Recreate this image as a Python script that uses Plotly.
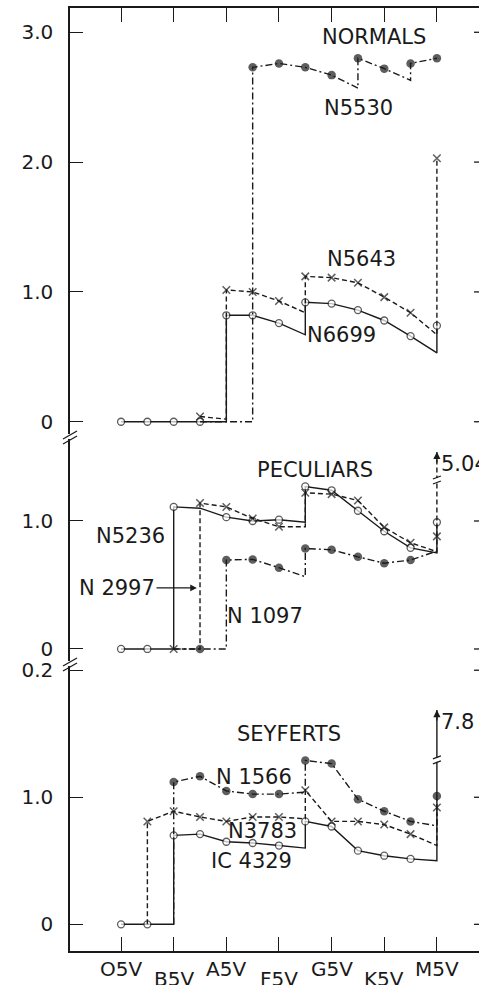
import plotly.graph_objects as go

INK = "#1a1a1a"
FONT = "DejaVu Sans"

# Spectral subtypes along the x axis (main types plus the intermediate ones)
SUBTYPES = ["O5V", "B0V", "B5V", "A0V", "A5V", "F0V", "F5V",
            "G0V", "G5V", "K0V", "K5V", "M0V", "M5V"]
AXIS_TYPES = ["O5V", "B5V", "A5V", "F5V", "G5V", "K5V", "M5V"]
LOW_LABELS = ["B5V", "F5V", "K5V"]          # tick labels set a little lower

# ---------------- NORMALS ----------------
N6699_T = ["O5V", "B0V", "B5V", "A0V", "A5V", "A5V", "F0V", "F5V", "G0V", "G0V",
           "G5V", "K0V", "K5V", "M0V", "M5V", "M5V"]
N6699_V = [0, 0, 0, 0, 0, 0.82, 0.82, 0.76, 0.67, 0.92, 0.91, 0.86, 0.78, 0.66, 0.53, 0.74]
N6699_M = [1, 1, 1, 1, 0, 1, 1, 1, 0, 1, 1, 1, 1, 1, 0, 1]

N5643_T = ["A0V", "A5V", "A5V", "F0V", "F5V", "G0V", "G0V", "G5V", "K0V", "K5V",
           "M0V", "M5V", "M5V"]
N5643_V = [0.04, 0.02, 1.015, 1.00, 0.93, 0.84, 1.12, 1.11, 1.07, 0.96, 0.84, 0.67, 2.03]
N5643_M = [1, 0, 1, 1, 1, 0, 1, 1, 1, 1, 1, 0, 1]

N5530_T = ["A0V", "F0V", "F0V", "F5V", "G0V", "G5V", "K0V", "K0V", "K5V", "M0V",
           "M0V", "M5V"]
N5530_V = [0, 0, 2.73, 2.76, 2.73, 2.67, 2.57, 2.80, 2.72, 2.63, 2.76, 2.80]
N5530_M = [0, 0, 1, 1, 1, 1, 0, 1, 1, 0, 1, 1]

# ---------------- PECULIARS ----------------
N5236_T = ["O5V", "B0V", "B5V", "B5V", "A0V", "A5V", "F0V", "F5V", "G0V", "G0V",
           "G5V", "K0V", "K5V", "M0V", "M5V", "M5V"]
N5236_V = [0, 0, 0, 1.11, 1.10, 1.03, 1.00, 1.01, 0.99, 1.27, 1.24, 1.08, 0.92, 0.79, 0.75, 0.99]
N5236_M = [1, 1, 0, 1, 0, 1, 1, 1, 0, 1, 1, 1, 1, 1, 0, 1]

# N2997 goes off scale at M5V (value 5.04); the line is cut at the axis break
N2997_TOP = 5.04
N2997_TIP = 1.54
N2997_BREAK = 1.32
N2997_T = ["B5V", "A0V", "A0V", "A5V", "F0V", "F5V", "G0V", "G0V", "G5V", "K0V",
           "K5V", "M0V", "M5V", "M5V", "M5V"]
N2997_V = [0, 0, 1.14, 1.11, 1.02, 0.955, 0.955, 1.22, 1.21, 1.16, 0.95, 0.83, 0.76, 0.88, N2997_TIP]
N2997_M = [1, 0, 1, 1, 1, 1, 0, 1, 1, 1, 1, 1, 0, 1, 0]

N1097_T = ["B5V", "A0V", "A5V", "A5V", "F0V", "F5V", "G0V", "G0V", "G5V", "K0V",
           "K5V", "M0V", "M5V"]
N1097_V = [0, 0, 0, 0.695, 0.70, 0.635, 0.565, 0.785, 0.775, 0.72, 0.67, 0.695, 0.765]
N1097_M = [0, 1, 0, 1, 1, 1, 0, 1, 1, 1, 1, 1, 0]

# ---------------- SEYFERTS ----------------
# IC 4329 goes off scale at M5V (value 7.8)
IC4329_TOP = 7.8
IC4329_TIP = 1.687
IC4329_BREAK = 1.294
IC4329_T = ["O5V", "B0V", "B5V", "B5V", "A0V", "A5V", "F0V", "F5V", "G0V", "G0V",
            "G5V", "K0V", "K5V", "M0V", "M5V", "M5V"]
IC4329_V = [0, 0, 0, 0.70, 0.71, 0.65, 0.64, 0.62, 0.60, 0.81, 0.77, 0.58, 0.54, 0.515, 0.50, IC4329_TIP]
IC4329_M = [1, 1, 0, 1, 1, 1, 1, 1, 0, 1, 1, 1, 1, 1, 0, 0]

N3783_T = ["B0V", "B0V", "B5V", "A0V", "A5V", "F0V", "F5V", "G0V", "G0V", "G5V",
           "K0V", "K5V", "M0V", "M5V", "M5V"]
N3783_V = [0, 0.81, 0.89, 0.845, 0.81, 0.845, 0.845, 0.83, 1.055, 0.81, 0.81, 0.785, 0.71, 0.62, 0.92]
N3783_M = [0, 1, 1, 1, 1, 1, 1, 0, 1, 1, 1, 1, 1, 0, 1]

N1566_T = ["B5V", "B5V", "A0V", "A5V", "F0V", "F5V", "G0V", "G0V", "G5V", "K0V",
           "K5V", "M0V", "M5V", "M5V"]
N1566_V = [0, 1.12, 1.165, 1.05, 1.025, 1.025, 1.04, 1.29, 1.265, 0.985, 0.89, 0.81, 0.775, 1.01]
N1566_M = [0, 1, 1, 1, 1, 1, 0, 1, 1, 1, 1, 1, 0, 1]

# Panel axes: (x axis, y axis, y range, domain, tick values, tick texts)
PANELS = {
    "normals":   ("x3", "y",  [-0.102, 3.187], [0.5472, 1.0], [0, 1, 2, 3], ["0", "1.0", "2.0", "3.0"]),
    "peculiars": ("x2", "y2", [-0.1016, 1.672], [0.3065, 0.5472], [0, 1], ["0", "1.0"]),
    "seyferts":  ("x",  "y3", [-0.21, 2.065], [0.0, 0.3065], [0, 1, 2], ["0", "1.0", "0.2"]),
}
X_RANGE = [-1.94, 13.6]

STYLES = {
    "open":  dict(symbol="circle", color="white", size=7, lw=1.3, dash="solid"),
    "cross": dict(symbol="x-thin-open", color=INK, size=7.5, lw=1.5, dash="5px,3px"),
    "dot":   dict(symbol="circle", color=INK, size=8.5, lw=0, dash="7px,3px,2px,3px"),
}

SERIES = [
    ("normals", N6699_T, N6699_V, N6699_M, "open"),
    ("normals", N5643_T, N5643_V, N5643_M, "cross"),
    ("normals", N5530_T, N5530_V, N5530_M, "dot"),
    ("peculiars", N5236_T, N5236_V, N5236_M, "open"),
    ("peculiars", N2997_T, N2997_V, N2997_M, "cross"),
    ("peculiars", N1097_T, N1097_V, N1097_M, "dot"),
    ("seyferts", IC4329_T, IC4329_V, IC4329_M, "open"),
    ("seyferts", N3783_T, N3783_V, N3783_M, "cross"),
    ("seyferts", N1566_T, N1566_V, N1566_M, "dot"),
]

LABELS = [
    ("normals", "NORMALS", 9.61, 2.96),
    ("normals", "N5530", 9.04, 2.42),
    ("normals", "N5643", 9.15, 1.25),
    ("normals", "N6699", 8.36, 0.67),
    ("peculiars", "PECULIARS", 7.37, 1.40),
    ("peculiars", "N5236", 0.34, 0.88),
    ("peculiars", "N 2997", -0.15, 0.477),
    ("peculiars", "N 1097", 5.45, 0.26),
    ("seyferts", "SEYFERTS", 6.38, 1.50),
    ("seyferts", "N 1566", 5.05, 1.16),
    ("seyferts", "N3783", 5.36, 0.735),
    ("seyferts", "IC 4329", 4.97, 0.50),
]


def xpos(types):
    return [SUBTYPES.index(t) for t in types]


fig = go.Figure()

for panel, types, vals, marks, style in SERIES:
    xa, ya = PANELS[panel][0], PANELS[panel][1]
    st = STYLES[style]
    fig.add_trace(go.Scatter(
        x=xpos(types), y=vals, xaxis=xa, yaxis=ya,
        mode="lines+markers",
        line=dict(color=INK, width=1.4, dash=st["dash"]),
        marker=dict(symbol=st["symbol"], color=st["color"],
                    size=[st["size"] if m else 0 for m in marks],
                    line=dict(color=INK, width=st["lw"])),
        showlegend=False, hoverinfo="skip",
    ))

annotations = []
for panel, text, x, y in LABELS:
    xa, ya = PANELS[panel][0], PANELS[panel][1]
    annotations.append(dict(x=x, y=y, xref=xa, yref=ya, text=text, showarrow=False,
                            xanchor="center", yanchor="middle",
                            font=dict(family=FONT, size=21, color=INK)))

# pointer from the N 2997 label to its rise at A0V
annotations.append(dict(x=2.88, y=0.477, ax=1.29, ay=0.477, xref="x2", yref="y2",
                        axref="x2", ayref="y2", text="", showarrow=True,
                        arrowhead=2, arrowsize=1.1, arrowwidth=1.2, arrowcolor=INK))

# off-scale values: arrow heads and value labels
for xa, ya, tip, top in [("x2", "y2", N2997_TIP, N2997_TOP), ("x", "y3", IC4329_TIP, IC4329_TOP)]:
    annotations.append(dict(x=SUBTYPES.index("M5V"), y=tip, xref=xa, yref=ya, ax=0, ay=12,
                            text="", showarrow=True, arrowhead=2, arrowsize=1.1,
                            arrowwidth=1.3, arrowcolor=INK))
    annotations.append(dict(x=SUBTYPES.index("M5V"), y=tip, xref=xa, yref=ya, text=f"{top:g}",
                            showarrow=False, xanchor="left", yanchor="top", xshift=2, yshift=2,
                            font=dict(family=FONT, size=21, color=INK)))

# spectral type labels under the x axis, staggered
for t in AXIS_TYPES:
    annotations.append(dict(x=SUBTYPES.index(t), y=0, xref="x", yref="paper", text=t,
                            showarrow=False, xanchor="center", yanchor="top",
                            yshift=-4 if t not in LOW_LABELS else -14,
                            font=dict(family=FONT, size=20, color=INK)))

shapes = []
# right-hand tick marks
for panel, (xa, ya, rng, dom, tv, tt) in PANELS.items():
    for v in tv:
        shapes.append(dict(type="line", xref="paper", xsizemode="pixel", xanchor=1, x0=-5, x1=0,
                           yref=ya, y0=v, y1=v, line=dict(color=INK, width=1.3)))

# axis break marks on the left axis
for yb in [PANELS["normals"][3][0], PANELS["peculiars"][3][0]]:
    shapes.append(dict(type="rect", xref="paper", xsizemode="pixel", xanchor=0, x0=-2, x1=2,
                       yref="paper", ysizemode="pixel", yanchor=yb, y0=-4, y1=1,
                       line=dict(width=0), fillcolor="white"))
    for dy in (-5, 0):
        shapes.append(dict(type="line", xref="paper", xsizemode="pixel", xanchor=0, x0=-7, x1=7,
                           yref="paper", ysizemode="pixel", yanchor=yb, y0=dy - 4, y1=dy + 4,
                           line=dict(color=INK, width=1.3)))

# break marks on the off-scale verticals
for xa, ya, yb in [("x2", "y2", N2997_BREAK), ("x", "y3", IC4329_BREAK)]:
    shapes.append(dict(type="rect", xref=xa, xsizemode="pixel", xanchor=SUBTYPES.index("M5V"),
                       x0=-2, x1=2, yref=ya, ysizemode="pixel", yanchor=yb, y0=-2, y1=2,
                       line=dict(width=0), fillcolor="white"))
    for dy in (-2.5, 2.5):
        shapes.append(dict(type="line", xref=xa, xsizemode="pixel", xanchor=SUBTYPES.index("M5V"),
                           x0=-4, x1=4, yref=ya, ysizemode="pixel", yanchor=yb,
                           y0=dy - 1.5, y1=dy + 1.5, line=dict(color=INK, width=1.2)))

tick_x = [SUBTYPES.index(t) for t in AXIS_TYPES]
xcommon = dict(range=X_RANGE, showgrid=False, zeroline=False, showline=True, linecolor=INK,
               linewidth=1.5, ticks="inside", ticklen=14, tickwidth=1.3, tickcolor=INK,
               tickvals=tick_x, showticklabels=False)

layout = dict(
    width=479, height=985,
    margin=dict(l=70, r=0, t=8, b=34),
    paper_bgcolor="white", plot_bgcolor="white",
    font=dict(family=FONT, color=INK),
    xaxis=dict(domain=[0, 1], anchor="y3", **xcommon),
    xaxis2=dict(domain=[0, 1], anchor="y2", matches="x", range=X_RANGE, visible=False),
    xaxis3=dict(domain=[0, 1], anchor="y", matches="x", side="top", **xcommon),
    annotations=annotations, shapes=shapes,
)
for panel, (xa, ya, rng, dom, tv, tt) in PANELS.items():
    key = "yaxis" if ya == "y" else "yaxis" + ya[1:]
    layout[key] = dict(domain=dom, anchor=xa, range=rng, tickvals=tv, ticktext=tt,
                       showgrid=False, zeroline=False, showline=True, linecolor=INK,
                       linewidth=1.5, ticks="inside", ticklen=13, tickwidth=1.3, tickcolor=INK,
                       ticklabelstandoff=11, tickfont=dict(family=FONT, size=20, color=INK))

fig.update_layout(**layout)
fig.write_html("out.html")
